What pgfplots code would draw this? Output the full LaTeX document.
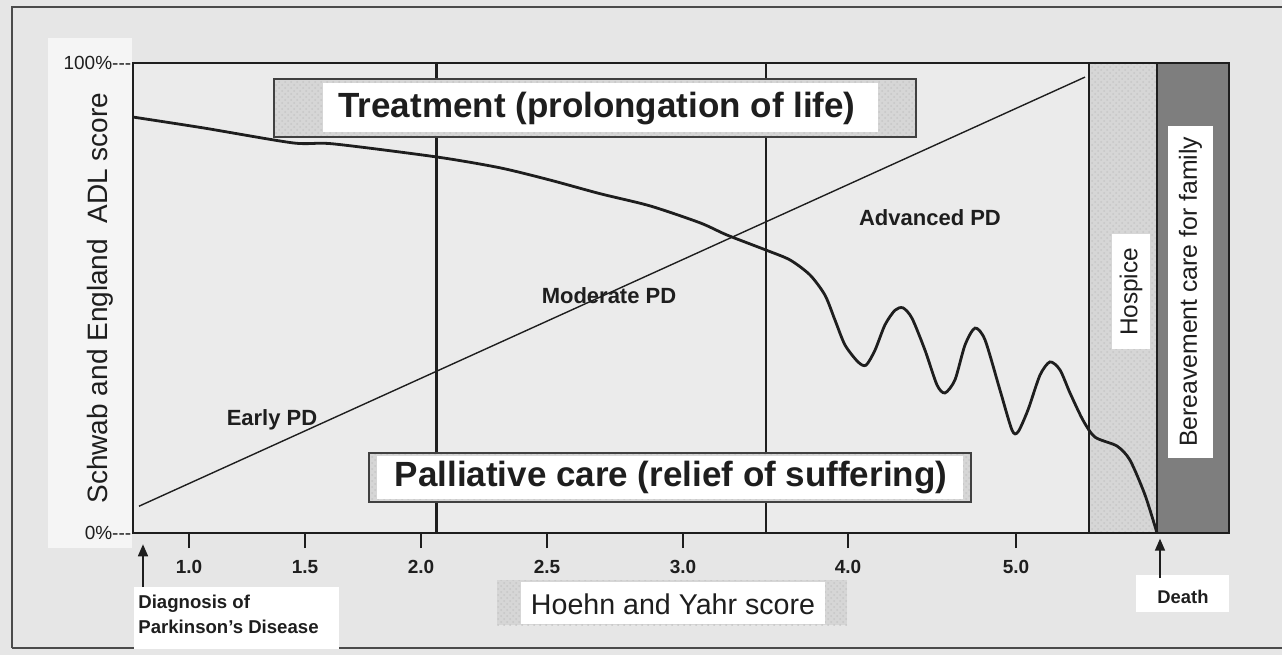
\documentclass[border=0pt]{standalone}
\usepackage{fontspec}
\setmainfont{Liberation Sans}
\usepackage{pgfplots}
\pgfplotsset{compat=1.18}
\usetikzlibrary{patterns,arrows.meta}
\definecolor{bg}{HTML}{E6E6E6}
\definecolor{plotbg}{HTML}{EBEBEB}
\definecolor{hatchbg}{HTML}{D6D6D6}
\definecolor{darkband}{HTML}{7E7E7E}
\definecolor{ink}{HTML}{1E1E1E}
\begin{document}
\begin{tikzpicture}[x=1pt,y=1pt]
% page background and frame
\fill[bg] (-66.5,-61) rectangle (574.5,266.5);
\fill[white!60!bg] (-42.5,-7.5) rectangle (-0.5,247.5);
\draw[ink!80, line width=1.4pt] (-60.5,-57.5) -- (-60.5,263) -- (574.5,263);
\draw[ink!80, line width=1.2pt] (-60.5,-57.5) -- (574.5,-57.5);
\begin{axis}[
  at={(0,0)}, anchor=south west,
  scale only axis, width=548pt, height=235pt,
  xmin=0, xmax=1096, ymin=0, ymax=100,
  clip=false, axis on top,
  axis line style={draw=ink, line width=1pt},
  axis background/.style={fill=plotbg},
  xtick={56,172,288,414,550,715,883},
  xticklabels={1.0,1.5,2.0,2.5,3.0,4.0,5.0},
  xtick pos=bottom, ytick pos=left,
  tick align=outside,
  major tick length=7.5pt,
  tick style={draw=ink, line width=1pt},
  xticklabel style={font=\fontsize{9.5}{11}\selectfont\bfseries, text=ink, yshift=-2.5pt},
  ytick={0,100}, yticklabels={0\%{-}{-}{-},100\%{-}{-}{-}},
  ytick style={draw=none},
  yticklabel style={font=\fontsize{9.5}{11}\selectfont, text=ink, inner sep=0.5pt, xshift=7.3pt},
  ylabel={Schwab and England\ \ ADL score},
  ylabel style={at={(axis description cs:-0.0301,0.5)}, anchor=center, font=\fontsize{14}{16}\selectfont, text=ink},
]
% stage boundaries
\addplot[ink, line width=1.5pt] coordinates {(304,0) (304,100)};
\addplot[ink, line width=0.9pt] coordinates {(633,0) (633,100)};
% hospice band
\addplot[draw=ink, line width=0.6pt, preaction={fill=hatchbg}, pattern=crosshatch dots, pattern color=gray!45]
  coordinates {(956,0) (956,100) (1024,100) (1024,0)} \closedcycle;
% bereavement band
\addplot[draw=ink, line width=0.6pt, fill=darkband]
  coordinates {(1024,0) (1024,100) (1096,100) (1096,0)} \closedcycle;
\node[fill=white, rotate=90, minimum width=57.5pt, minimum height=19pt, inner sep=0pt,
  font=\fontsize{12.2}{14}\selectfont, text=ink] at (axis cs:998,51.3) {Hospice};
\node[fill=white, rotate=90, minimum width=166pt, minimum height=22.5pt, inner sep=0pt,
  font=\fontsize{12.4}{14}\selectfont, text=ink] at (axis cs:1057.5,51.3) {Bereavement care for family};
% treatment box
\draw[draw=ink!85, line width=0.8pt, preaction={fill=hatchbg}, pattern=crosshatch dots, pattern color=gray!45]
  (axis cs:141,84.3) rectangle (axis cs:783,96.6);
\fill[white] (axis cs:190,85.3) rectangle (axis cs:745,95.7);
\node[font=\fontsize{17.5}{20}\selectfont\bfseries, text=ink] at (axis cs:464,90.4) {Treatment (prolongation of life)};
% palliative box
\draw[draw=ink!85, line width=0.8pt, preaction={fill=hatchbg}, pattern=crosshatch dots, pattern color=gray!45]
  (axis cs:236,6.6) rectangle (axis cs:838,17.0);
\fill[white] (axis cs:244,7.3) rectangle (axis cs:830,16.3);
\node[font=\fontsize{17.5}{20}\selectfont\bfseries, text=ink] at (axis cs:538,11.7) {Palliative care (relief of suffering)};
% diagonal
\addplot[ink, line width=0.7pt] coordinates {(6,5.7) (952,97.0)};
% Schwab and England ADL score curve
\addplot[ink, line width=1.4pt, smooth, tension=0.45] coordinates {
(0,88.5) (70,86.2) (160,83.0) (200,82.8) (304,80.0) (367,77.7) (417,75.1) (467,72.2)
(517,69.6) (567,66.0) (594,63.4) (633,60.2) (657,58.1) (677,54.9) (692,50.6) (702,45.3)
(712,40.0) (725,36.4) (733,35.7) (742,38.9) (752,44.3) (762,47.4) (770,47.9) (779,45.7)
(792,38.9) (804,31.5) (812,29.8) (822,32.6) (832,40.0) (842,43.6) (852,41.1) (867,30.4)
(879,21.9) (885,21.5) (895,26.2) (907,33.6) (917,36.4) (927,34.7) (937,29.8) (950,24.0)
(962,20.4) (984,18.5) (997,15.5) (1012,8.1) (1024,0)};
% stage labels
\node[font=\fontsize{11}{13}\selectfont\bfseries, text=ink] at (axis cs:139,24.0) {Early PD};
\node[font=\fontsize{11}{13}\selectfont\bfseries, text=ink] at (axis cs:476,50.4) {Moderate PD};
\node[font=\fontsize{11}{13}\selectfont\bfseries, text=ink] at (axis cs:797,67.0) {Advanced PD};
% x axis title box
\fill[hatchbg, preaction={fill=hatchbg}, pattern=crosshatch dots, pattern color=gray!45]
  (axis cs:364,-19.6) rectangle (axis cs:714,-10.0);
\fill[white] (axis cs:388,-19.4) rectangle (axis cs:692,-10.4);
\node[font=\fontsize{14.3}{16}\selectfont, text=ink] at (axis cs:540,-15.1) {Hoehn and Yahr score};
% diagnosis
\fill[white] (axis cs:1,-24.6) rectangle (axis cs:206,-11.5);
\node[anchor=west, inner sep=0pt, font=\fontsize{9.3}{11}\selectfont\bfseries, text=ink] at (axis cs:5,-15.1) {Diagnosis of};
\node[anchor=west, inner sep=0pt, font=\fontsize{9.3}{11}\selectfont\bfseries, text=ink] at (axis cs:5,-20.0) {Parkinson's Disease};
\draw[ink, line width=0.8pt, -{Triangle[length=6pt,width=5pt]}] (axis cs:10,-11.5) -- (axis cs:10,-2.4);
% death
\fill[white] (axis cs:1003,-16.8) rectangle (axis cs:1096,-8.9);
\node[font=\fontsize{9.2}{11}\selectfont\bfseries, text=ink] at (axis cs:1050,-13.6) {Death};
\draw[ink, line width=0.8pt, -{Triangle[length=6pt,width=5pt]}] (axis cs:1027,-9.6) -- (axis cs:1027,-1.2);
\end{axis}
\pgfresetboundingbox
\path[use as bounding box] (-66.5,-61) rectangle (574.5,266.5);
\end{tikzpicture}
\end{document}
